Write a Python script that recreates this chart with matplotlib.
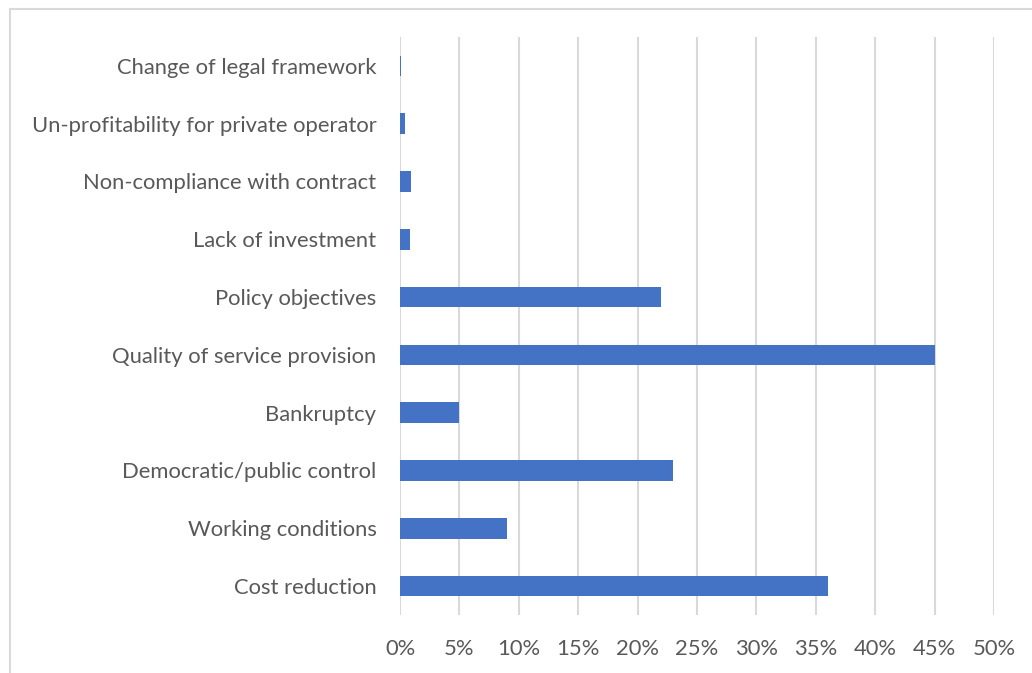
import matplotlib
matplotlib.use("Agg")
import matplotlib.pyplot as plt
from matplotlib.patches import Rectangle
from matplotlib.ticker import FuncFormatter

# reasons for remunicipalisation, bottom to top
reasons = [
    "Cost reduction",
    "Working conditions",
    "Democratic/public control",
    "Bankruptcy",
    "Quality of service provision",
    "Policy objectives",
    "Lack of investment",
    "Non-compliance with contract",
    "Un-profitability for private operator",
    "Change of legal framework",
]
shares = [36, 9, 23, 5, 45, 22, 0.85, 0.9, 0.4, 0.05]
xticks = [0, 5, 10, 15, 20, 25, 30, 35, 40, 45, 50]

W, H = 1032, 673
fig = plt.figure(figsize=(W / 100, H / 100), dpi=100)
ax = fig.add_axes([400 / W, 1 - 615 / H, 594 / W, 578 / H])

ax.barh(range(len(reasons)), shares, height=0.355, color="#4472c4", zorder=3)

ax.set_xlim(0, 50)
ax.set_ylim(-0.5, len(reasons) - 0.5)
ax.set_xticks(xticks)
ax.xaxis.set_major_formatter(FuncFormatter(lambda v, p: f"{v:.0f}%"))
ax.set_yticks(range(len(reasons)))
ax.set_yticklabels(reasons)
ax.grid(axis="x", color="#d9d9d9", linewidth=1.5, zorder=0)
for s in ax.spines.values():
    s.set_visible(False)
ax.tick_params(axis="both", length=0, labelsize=15.8, labelcolor="#595959")
ax.tick_params(axis="x", pad=17)
ax.tick_params(axis="y", pad=17)
for t in ax.get_xticklabels() + ax.get_yticklabels():
    t.set_fontfamily("Lato")

# chart area border
fig.patches.append(Rectangle((10 / W, -0.1), 1.1, 1 - 9 / H + 0.1, transform=fig.transFigure,
                             fill=False, edgecolor="#d9d9d9", linewidth=1.5))

fig.savefig("out.png", dpi=100)
